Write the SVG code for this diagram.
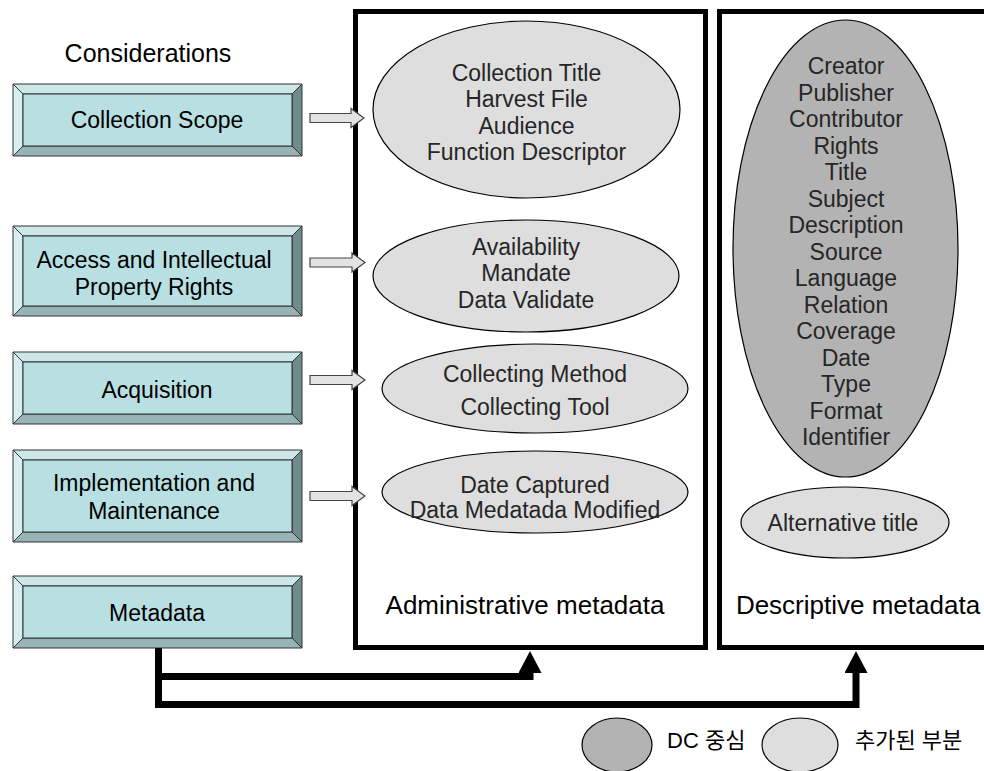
<svg xmlns="http://www.w3.org/2000/svg" width="984" height="771" viewBox="0 0 984 771">
<defs>
<style>
text{font-family:"Liberation Sans",Arial,"Noto Sans CJK KR",sans-serif;text-anchor:middle;}
.bt{font-size:23px;fill:#000;}
.et{font-size:23px;fill:#262626;}
.hd{font-size:25px;fill:#000;}
.fl{font-size:26px;fill:#000;}
.lg{font-size:22px;fill:#000;text-anchor:start;font-family:"Liberation Sans","Noto Sans CJK KR",sans-serif;}
.bvt{fill:#cde6e8;stroke:#333;stroke-width:1;}
.bvl{fill:#d6eef0;stroke:#333;stroke-width:1;}
.bvr{fill:#6f8b8c;stroke:#333;stroke-width:1;}
.bvb{fill:#97b3b5;stroke:#333;stroke-width:1;}
.bin{fill:#b8dfe1;stroke:#333;stroke-width:1;}
.frame{fill:#fff;stroke:#000;stroke-width:5;}
.le{fill:#dedede;stroke:#000;stroke-width:1.2;}
.de{fill:#b3b3b3;stroke:#000;stroke-width:1.2;}
.ba{fill:#e3e3e3;stroke:#444;stroke-width:1.2;}
.conn{fill:none;stroke:#000;stroke-width:7;stroke-linejoin:miter;stroke-linecap:butt;}
</style>
<marker id="ah" markerUnits="userSpaceOnUse" markerWidth="22" markerHeight="23" viewBox="0 0 22 23" refX="0" refY="11.5" orient="auto">
<path d="M0,0 L22,11.5 L0,23 Z" fill="#000"/>
</marker>
</defs>
<rect width="984" height="771" fill="#fff"/>

<text class="hd" x="148" y="62">Considerations</text>

<g id="admin-frame">
<rect class="frame" x="355.5" y="11.5" width="350" height="636"/>
<text class="fl" x="525" y="614">Administrative metadata</text>
</g>
<g id="desc-frame">
<rect class="frame" x="719.5" y="11.5" width="280" height="636"/>
<text class="fl" x="858" y="614">Descriptive metadata</text>
</g>

<g id="box-collection-scope">
<polygon class="bvt" points="13,84 302,84 292,94 23,94"/>
<polygon class="bvl" points="13,84 23,94 23,146 13,156"/>
<polygon class="bvr" points="302,84 302,156 292,146 292,94"/>
<polygon class="bvb" points="13,156 23,146 292,146 302,156"/>
<rect class="bin" x="23" y="94" width="269" height="52"/>
<text class="bt" x="157" y="128">Collection Scope</text>
</g>
<g id="box-access">
<polygon class="bvt" points="13,226 302,226 292,236 23,236"/>
<polygon class="bvl" points="13,226 23,236 23,306 13,316"/>
<polygon class="bvr" points="302,226 302,316 292,306 292,236"/>
<polygon class="bvb" points="13,316 23,306 292,306 302,316"/>
<rect class="bin" x="23" y="236" width="269" height="70"/>
<text class="bt" x="154" y="268">Access and Intellectual</text>
<text class="bt" x="154" y="295">Property Rights</text>
</g>
<g id="box-acquisition">
<polygon class="bvt" points="13,352 302,352 292,362 23,362"/>
<polygon class="bvl" points="13,352 23,362 23,414 13,424"/>
<polygon class="bvr" points="302,352 302,424 292,414 292,362"/>
<polygon class="bvb" points="13,424 23,414 292,414 302,424"/>
<rect class="bin" x="23" y="362" width="269" height="52"/>
<text class="bt" x="157" y="398">Acquisition</text>
</g>
<g id="box-implementation">
<polygon class="bvt" points="13,450 302,450 292,460 23,460"/>
<polygon class="bvl" points="13,450 23,460 23,532 13,542"/>
<polygon class="bvr" points="302,450 302,542 292,532 292,460"/>
<polygon class="bvb" points="13,542 23,532 292,532 302,542"/>
<rect class="bin" x="23" y="460" width="269" height="72"/>
<text class="bt" x="154" y="491">Implementation and</text>
<text class="bt" x="154" y="519">Maintenance</text>
</g>
<g id="box-metadata">
<polygon class="bvt" points="13,576 302,576 292,586 23,586"/>
<polygon class="bvl" points="13,576 23,586 23,638 13,648"/>
<polygon class="bvr" points="302,576 302,648 292,638 292,586"/>
<polygon class="bvb" points="13,648 23,638 292,638 302,648"/>
<rect class="bin" x="23" y="586" width="269" height="52"/>
<text class="bt" x="157" y="621">Metadata</text>
</g>

<g id="ell-collection">
<ellipse class="le" cx="526.5" cy="109.5" rx="153.5" ry="88.5"/>
<text class="et" x="526.5" y="81">Collection Title</text>
<text class="et" x="526.5" y="107">Harvest File</text>
<text class="et" x="526.5" y="134">Audience</text>
<text class="et" x="526.5" y="160">Function Descriptor</text>
</g>
<g id="ell-access">
<ellipse class="le" cx="526" cy="276" rx="153" ry="56"/>
<text class="et" x="526" y="255">Availability</text>
<text class="et" x="526" y="281">Mandate</text>
<text class="et" x="526" y="308">Data Validate</text>
</g>
<g id="ell-collecting">
<ellipse class="le" cx="535" cy="388.5" rx="153" ry="44.5"/>
<text class="et" x="535" y="382">Collecting Method</text>
<text class="et" x="535" y="415">Collecting Tool</text>
</g>
<g id="ell-date">
<ellipse class="le" cx="535" cy="492" rx="153" ry="41"/>
<text class="et" x="535" y="493">Date Captured</text>
<text class="et" x="535" y="518">Data Medatada Modified</text>
</g>
<g id="ell-dc">
<ellipse class="de" cx="845.5" cy="248.5" rx="112.5" ry="228.5"/>
<text class="et" x="846" y="74">Creator</text>
<text class="et" x="846" y="100.5">Publisher</text>
<text class="et" x="846" y="127">Contributor</text>
<text class="et" x="846" y="153.5">Rights</text>
<text class="et" x="846" y="180">Title</text>
<text class="et" x="846" y="206.5">Subject</text>
<text class="et" x="846" y="233">Description</text>
<text class="et" x="846" y="259.5">Source</text>
<text class="et" x="846" y="286">Language</text>
<text class="et" x="846" y="312.5">Relation</text>
<text class="et" x="846" y="339">Coverage</text>
<text class="et" x="846" y="365.5">Date</text>
<text class="et" x="846" y="392">Type</text>
<text class="et" x="846" y="418.5">Format</text>
<text class="et" x="846" y="445">Identifier</text>
</g>
<g id="ell-alt">
<ellipse class="le" cx="845" cy="522.5" rx="104" ry="35.5"/>
<text class="et" x="843" y="531">Alternative title</text>
</g>

<g id="connectors">
<polygon class="ba" points="310,113.5 351,113.5 351,108.5 364,118 351,127.5 351,122.5 310,122.5"/>
<polygon class="ba" points="310,258 352,258 352,253 365,262.5 352,272 352,267 310,267"/>
<polygon class="ba" points="310,375.5 352,375.5 352,370.5 365,380 352,389.5 352,384.5 310,384.5"/>
<polygon class="ba" points="310,491.5 352,491.5 352,486.5 365,496 352,505.5 352,500.5 310,500.5"/>
<path class="conn" d="M158.5,648 V676.5 H530 V673" marker-end="url(#ah)"/>
<path class="conn" d="M158.5,648 V704.5 H856 V673" marker-end="url(#ah)"/>
</g>

<g id="legend">
<ellipse class="de" cx="617" cy="745" rx="35" ry="27"/>
<text class="lg" x="667" y="748">DC 중심</text>
<ellipse class="le" cx="800" cy="745" rx="38" ry="27"/>
<text class="lg" x="855" y="748">추가된 부분</text>
</g>
</svg>
